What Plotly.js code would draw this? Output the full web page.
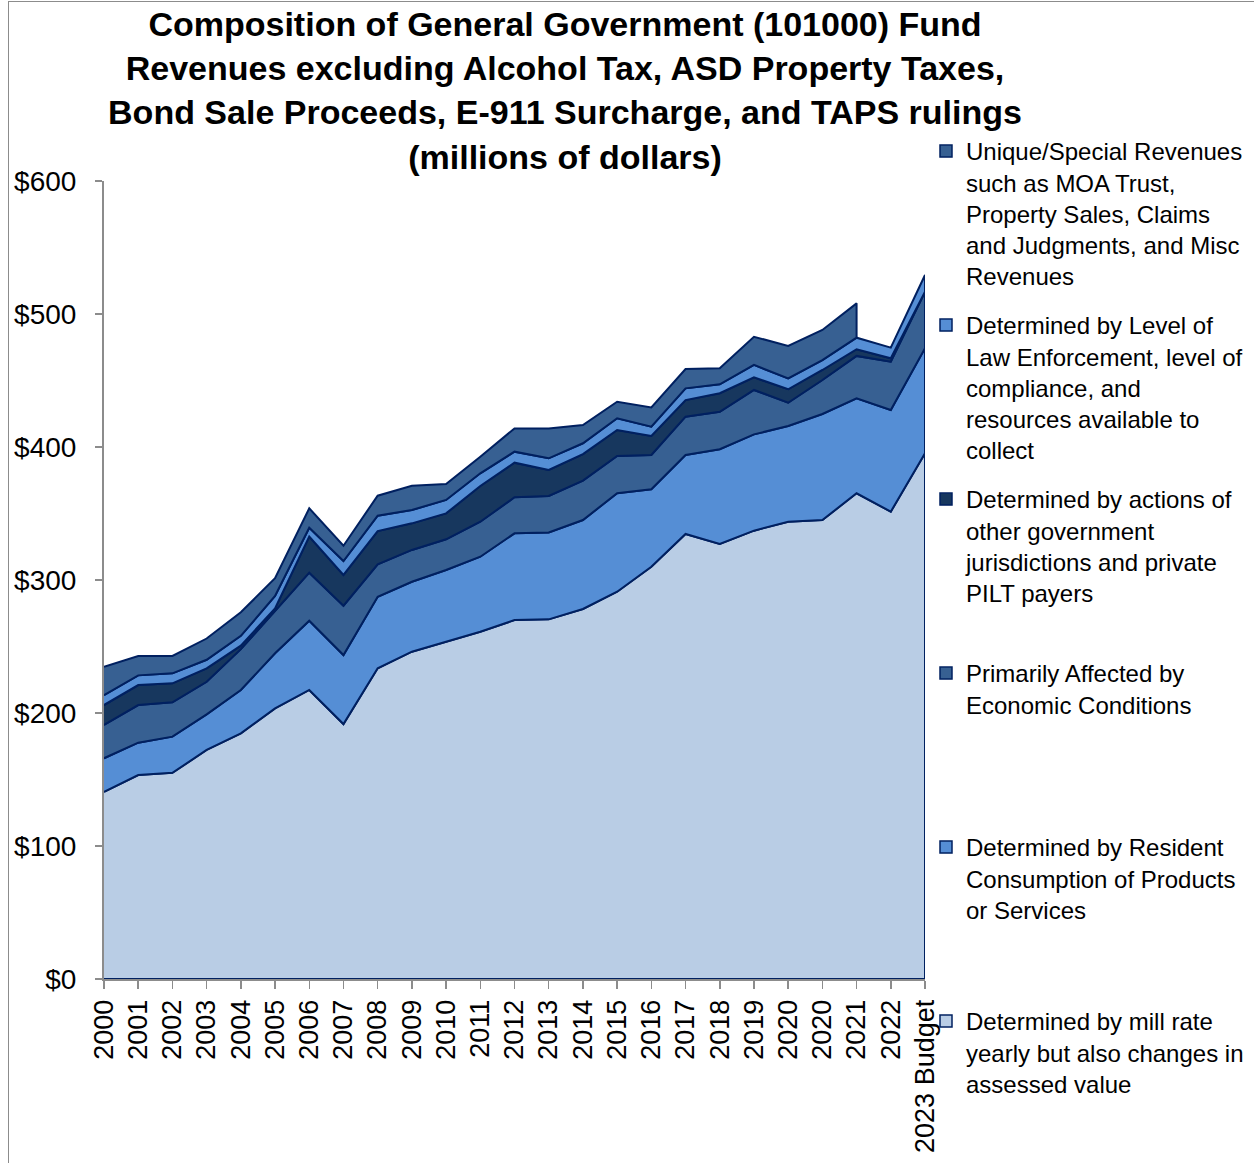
<!DOCTYPE html>
<html>
<head>
<meta charset="utf-8">
<script src="https://cdn.plot.ly/plotly-3.0.1.min.js"></script>
<style>
  html, body { margin: 0; padding: 0; background: #fff; }
  #wrap { position: relative; width: 1254px; height: 1163px; }
  #chart { position: absolute; left: 0; top: 0; width: 1254px; height: 1163px; }
  #frame { position: absolute; left: 8px; top: 1px; width: 1300px; height: 1300px;
           border-left: 1px solid #8c8c8c; border-top: 1px solid #8c8c8c; pointer-events: none; }
</style>
</head>
<body>
<div id="wrap"><div id="chart"></div><div id="frame"></div></div>
<script>
// ---- Data (millions of dollars) ----
const categories = ['2000','2001','2002','2003','2004','2005','2006','2007','2008','2009',
  '2010','2011','2012','2013','2014','2015','2016','2017','2018','2019','2020','2020',
  '2021','2022','2023 Budget'];

const millRate      = [140.8,153.4,155.0,172.2,184.7,203.5,217.3,191.7,233.6,246.1,253.6,261.1,269.9,270.4,278.2,291.2,310.0,334.6,327.1,337.1,343.8,345.1,365.2,351.4,395.3];
const consumption   = [25.2,24.3,27.2,26.8,32.6,41.4,52.1,51.9,53.8,52.6,53.9,56.4,65.2,65.4,66.9,74.0,58.2,59.4,71.2,72.4,72.0,79.7,71.4,76.4,78.9];
const economic      = [25.0,28.3,25.8,24.5,30.7,32.1,36.1,37.1,24.4,23.9,23.1,26.3,27.1,27.4,29.6,28.0,25.8,28.8,28.2,33.4,17.5,25.6,31.9,36.3,42.6];
const otherGov      = [15.0,15.0,14.3,10.1,2.6,1.7,27.1,23.1,25.0,20.0,19.5,26.9,26.0,19.5,20.0,19.6,14.3,12.5,13.9,9.5,10.1,7.5,5.0,2.6,0.0];
const lawEnf        = [7.5,7.3,7.5,6.4,7.4,9.3,6.7,10.5,11.5,10.0,10.1,9.5,8.3,8.8,8.1,8.8,7.0,8.8,6.7,9.3,8.2,7.5,8.7,8.0,12.5];
const uniqueRev     = [21.3,14.6,13.1,16.0,17.7,13.3,14.6,11.5,15.1,18.3,12.0,12.5,17.5,22.5,13.7,12.4,14.5,14.5,12.1,21.2,24.4,22.6,25.8,null,null];

const seriesNames = [
  'Determined by mill rate<br>yearly but also changes in<br>assessed value',
  'Determined by Resident<br>Consumption of Products<br>or Services',
  'Primarily Affected by<br>Economic Conditions',
  'Determined by actions of<br>other government<br>jurisdictions and private<br>PILT payers',
  'Determined by Level of<br>Law Enforcement, level of<br>compliance, and<br>resources available to<br>collect',
  'Unique/Special Revenues<br>such as MOA Trust,<br>Property Sales, Claims<br>and Judgments, and Misc<br>Revenues'
];
const seriesColors = ['#B9CDE5','#558ED5','#376092','#17375E','#558ED5','#376092'];
const edgeColor = '#002060';

// ---- Build stacked polygons ----
const series = [millRate, consumption, economic, otherGov, lawEnf, uniqueRev];
const idx = categories.map((_, i) => i);
let lower = idx.map(() => 0);
const traces = [];
series.forEach((vals, s) => {
  const xs = [], upperPts = [], lowerPts = [];
  const upper = lower.slice();
  idx.forEach(i => {
    if (vals[i] !== null) {
      upper[i] = lower[i] + vals[i];
      xs.push(i); upperPts.push(upper[i]); lowerPts.push(lower[i]);
    }
  });
  traces.push({
    type: 'scatter', mode: 'lines', fill: 'toself',
    x: xs.concat(xs.slice().reverse()),
    y: upperPts.concat(lowerPts.slice().reverse()),
    fillcolor: seriesColors[s],
    line: { color: edgeColor, width: 2 },
    showlegend: false, hoverinfo: 'skip'
  });
  lower = upper;
});

// legend entries (top to bottom), padded to equal height like the original
for (let s = series.length - 1; s >= 0; s--) {
  const n = seriesNames[s].split('<br>').length;
  let name = seriesNames[s];
  if (s > 0) { for (let k = n; k < 5; k++) name += '<br>\u00a0'; }
  traces.push({
    type: 'scatter', mode: 'markers', x: [null], y: [null], name: name,
    legendgroup: 'g' + s,
    marker: { symbol: 'square', size: 12, color: seriesColors[s], line: { color: edgeColor, width: 1.5 } },
    showlegend: true, hoverinfo: 'skip'
  });
}

const font = 'Liberation Sans, Arial, sans-serif';
const layout = {
  width: 1254, height: 1163,
  paper_bgcolor: '#ffffff', plot_bgcolor: '#ffffff',
  margin: { l: 104, r: 329, t: 181, b: 184, autoexpand: false },
  font: { family: font, color: '#000000' },
  title: {
    text: 'Composition of General Government (101000) Fund<br>Revenues excluding Alcohol Tax, ASD Property Taxes,<br>Bond Sale Proceeds, E-911 Surcharge, and TAPS rulings<br>(millions of dollars)',
    font: { family: font, size: 34, color: '#000000', weight: 'bold' },
    xref: 'container', x: 565 / 1254, xanchor: 'center',
    yref: 'container', y: 1 - 36 / 1163, yanchor: 'top'
  },
  xaxis: {
    type: 'linear', range: [0, 24],
    tickmode: 'array', tickvals: idx, ticktext: categories,
    tickangle: -90, tickfont: { family: font, size: 27, color: '#000000' },
    ticks: 'outside', ticklen: 8, tickwidth: 1.5, tickcolor: '#8c8c8c',
    showline: true, linecolor: '#8c8c8c', linewidth: 2,
    showgrid: false, zeroline: false, fixedrange: true
  },
  yaxis: {
    range: [0, 600], tickmode: 'linear', tick0: 0, dtick: 100, tickprefix: '$',
    tickfont: { family: font, size: 28, color: '#000000' },
    ticks: 'outside', ticklen: 7, tickwidth: 1.5, tickcolor: '#8c8c8c',
    ticklabelstandoff: 13,
    showline: true, linecolor: '#8c8c8c', linewidth: 2,
    showgrid: false, zeroline: false, fixedrange: true
  },
  legend: {
    xref: 'container', yref: 'container',
    x: 926 / 1254, xanchor: 'left',
    y: 1 - 129 / 1163, yanchor: 'top',
    maxheight: 1020,
    font: { family: font, size: 24, color: '#000000' },
    valign: 'top', traceorder: 'grouped', tracegroupgap: 15,
    bgcolor: 'rgba(0,0,0,0)', borderwidth: 0
  },
  showlegend: true
};

Plotly.newPlot('chart', traces, layout, { displayModeBar: false, staticPlot: true });
</script>
</body>
</html>
